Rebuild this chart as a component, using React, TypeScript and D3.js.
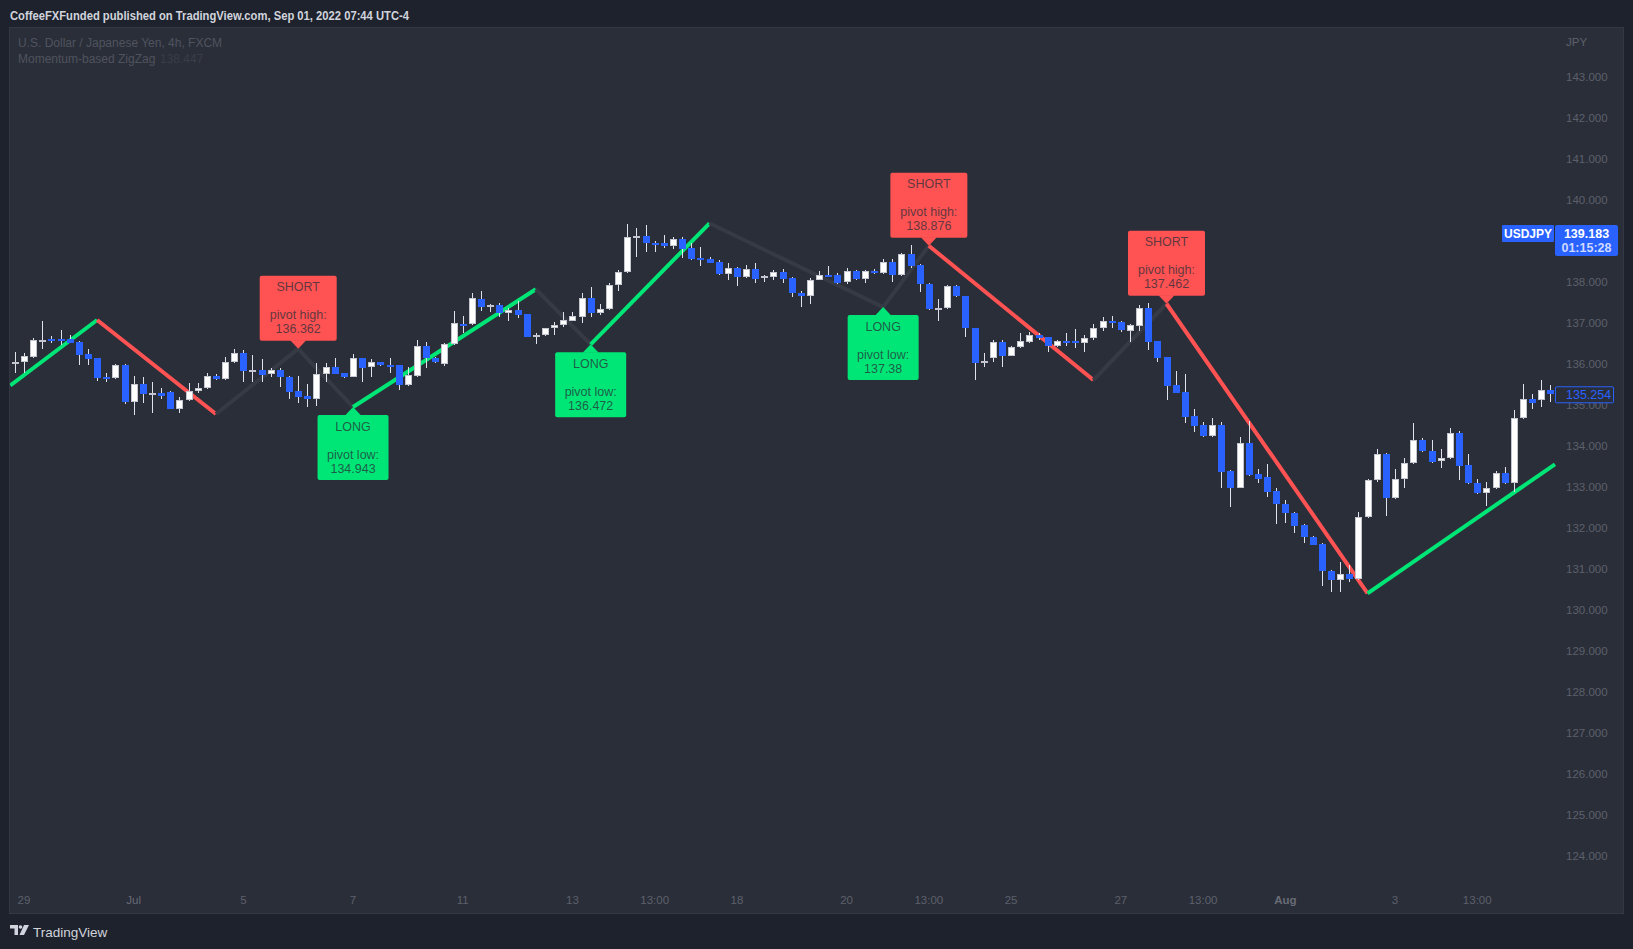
import React from 'react';
import * as d3 from 'd3';

// ---------- DATA ----------
const firstBar = -1; // bar index of the first candle (0 = Jun 29 01:00)

const opens = [
  136.03, 136.03, 136.17, 136.56, 136.60, 136.60, 136.60, 136.54, 136.24, 136.13,
  135.68, 135.64, 135.97, 135.07, 135.50, 135.27, 135.28, 135.31, 134.90, 135.11,
  135.33, 135.40, 135.70, 135.62, 136.03, 136.25, 135.84, 135.85, 135.74, 135.85,
  135.68, 135.33, 135.22, 135.15, 135.74, 135.92, 135.77, 135.68, 136.14, 135.91,
  136.04, 135.97, 135.96, 135.47, 135.71, 136.43, 136.15, 135.99, 136.47, 136.98,
  136.96, 137.59, 137.39, 137.42, 137.23, 137.31, 137.21, 136.66, 136.69, 136.86,
  136.94, 137.05, 137.15, 137.60, 137.23, 137.33, 137.91, 138.23, 139.08, 139.12,
  138.95, 138.95, 138.86, 139.03, 138.81, 138.57, 138.55, 138.48, 138.18, 138.33,
  138.11, 138.30, 138.09, 138.12, 138.24, 138.09, 137.73, 137.64, 138.04, 138.16,
  138.16, 137.99, 138.26, 138.06, 138.26, 138.22, 138.47, 138.16, 138.67, 138.41,
  137.94, 137.35, 137.35, 137.90, 137.65, 136.86, 136.01, 136.13, 136.52, 136.20,
  136.40, 136.54, 136.70, 136.64, 136.42, 136.55, 136.55, 136.51, 136.62, 136.86,
  137.05, 137.01, 136.80, 136.93, 137.35, 136.55, 136.16, 135.48, 135.31, 134.72,
  134.50, 134.24, 134.50, 133.39, 132.98, 134.06, 133.31, 133.23, 132.90, 132.59,
  132.35, 132.07, 131.78, 131.60, 130.95, 130.72, 130.87, 130.74, 132.25, 133.16,
  133.79, 132.72, 133.20, 133.57, 134.14, 133.87, 133.63, 133.69, 134.30, 133.53,
  133.08, 132.85, 132.96, 133.33, 133.08, 134.67, 135.13, 135.11, 135.36,
];
const highs = [
  136.29, 136.25, 136.62, 137.03, 136.68, 136.82, 136.70, 136.56, 136.37, 136.15,
  135.78, 136.00, 136.00, 135.70, 135.67, 135.55, 135.40, 135.33, 135.20, 135.52,
  135.52, 135.77, 135.75, 136.17, 136.36, 136.33, 136.21, 136.11, 135.89, 135.89,
  135.69, 135.70, 135.50, 136.01, 136.01, 136.13, 135.78, 136.23, 136.15, 136.11,
  136.05, 136.15, 135.98, 135.93, 136.58, 136.54, 136.16, 136.50, 137.29, 137.16,
  137.72, 137.78, 137.46, 137.47, 137.35, 137.53, 137.22, 136.76, 136.88, 137.02,
  137.27, 137.27, 137.73, 137.86, 137.45, 137.96, 138.29, 139.41, 139.30, 139.38,
  139.00, 139.14, 139.10, 139.10, 138.94, 138.85, 138.61, 138.53, 138.45, 138.37,
  138.41, 138.45, 138.16, 138.29, 138.30, 138.12, 137.77, 138.08, 138.26, 138.38,
  138.22, 138.33, 138.28, 138.28, 138.30, 138.55, 138.55, 138.69, 138.90, 138.42,
  137.96, 137.57, 137.92, 137.92, 137.66, 136.87, 136.27, 136.58, 136.58, 136.42,
  136.76, 136.78, 136.74, 136.66, 136.59, 136.76, 136.84, 136.70, 136.97, 137.15,
  137.17, 137.04, 136.98, 137.43, 137.47, 136.56, 136.17, 135.81, 135.75, 134.89,
  134.59, 134.67, 134.59, 133.40, 134.22, 134.61, 133.42, 133.55, 132.96, 132.67,
  132.39, 132.09, 131.80, 131.63, 130.97, 131.17, 131.09, 132.39, 133.20, 133.91,
  133.83, 133.42, 133.69, 134.56, 134.18, 134.14, 133.91, 134.42, 134.37, 133.80,
  133.20, 133.12, 133.39, 133.47, 134.87, 135.51, 135.26, 135.60, 135.48,
];
const lows = [
  135.77, 135.78, 136.15, 136.37, 136.50, 136.46, 136.50, 135.97, 135.97, 135.59,
  135.56, 135.62, 135.02, 134.76, 135.03, 134.80, 135.15, 134.89, 134.80, 135.10,
  135.28, 135.39, 135.61, 135.60, 136.02, 135.56, 135.56, 135.56, 135.68, 135.44,
  135.15, 135.05, 134.95, 134.98, 135.56, 135.75, 135.66, 135.67, 135.56, 135.68,
  135.95, 135.78, 135.36, 135.46, 135.68, 135.89, 136.02, 135.95, 136.46, 136.74,
  136.94, 137.29, 137.27, 137.15, 137.05, 137.11, 136.64, 136.48, 136.68, 136.70,
  136.90, 137.03, 136.99, 137.13, 137.19, 137.31, 137.78, 138.22, 138.61, 138.73,
  138.73, 138.81, 138.79, 138.59, 138.53, 138.39, 138.45, 138.16, 138.04, 137.90,
  138.08, 137.98, 138.00, 138.04, 137.96, 137.63, 137.39, 137.46, 138.03, 138.11,
  137.94, 137.94, 138.04, 137.98, 138.20, 138.18, 138.00, 138.14, 138.34, 137.76,
  137.31, 137.05, 137.33, 137.62, 136.64, 135.60, 135.91, 136.05, 135.91, 136.18,
  136.38, 136.50, 136.58, 136.29, 136.40, 136.42, 136.38, 136.28, 136.58, 136.80,
  136.88, 136.78, 136.54, 136.80, 136.33, 136.05, 135.11, 135.28, 134.56, 134.34,
  134.22, 134.22, 132.96, 132.51, 132.96, 133.25, 133.08, 132.76, 132.09, 132.12,
  131.88, 131.62, 131.57, 130.58, 130.42, 130.44, 130.68, 130.72, 132.23, 133.12,
  132.29, 132.70, 132.98, 133.55, 133.84, 133.57, 133.45, 133.67, 133.16, 133.06,
  132.82, 132.54, 132.94, 133.06, 132.86, 134.64, 134.89, 134.94, 135.07,
];
const closes = [
  136.04, 136.19, 136.58, 136.59, 136.58, 136.58, 136.51, 136.21, 136.11, 135.66,
  135.64, 135.97, 135.07, 135.50, 135.27, 135.28, 135.22, 134.90, 135.11, 135.33,
  135.41, 135.70, 135.62, 136.04, 136.25, 135.82, 135.85, 135.73, 135.85, 135.67,
  135.32, 135.20, 135.15, 135.74, 135.92, 135.76, 135.68, 136.13, 135.90, 136.03,
  135.96, 135.95, 135.47, 135.72, 136.43, 136.15, 136.03, 136.47, 136.99, 136.95,
  137.60, 137.39, 137.42, 137.23, 137.31, 137.19, 136.66, 136.70, 136.86, 136.94,
  137.06, 137.16, 137.60, 137.23, 137.33, 137.91, 138.23, 139.08, 139.12, 138.94,
  138.92, 138.86, 139.03, 138.80, 138.55, 138.53, 138.46, 138.18, 138.33, 138.11,
  138.30, 138.07, 138.14, 138.24, 138.07, 137.72, 137.64, 138.04, 138.16, 138.14,
  137.98, 138.26, 138.06, 138.26, 138.22, 138.47, 138.16, 138.67, 138.38, 137.94,
  137.33, 137.36, 137.90, 137.64, 136.86, 136.01, 136.06, 136.52, 136.20, 136.40,
  136.55, 136.70, 136.63, 136.42, 136.55, 136.52, 136.51, 136.62, 136.86, 137.05,
  137.00, 136.81, 136.94, 137.35, 136.54, 136.15, 135.46, 135.29, 134.71, 134.49,
  134.24, 134.50, 133.37, 132.98, 134.06, 133.29, 133.19, 132.88, 132.58, 132.35,
  132.05, 131.77, 131.59, 130.94, 130.73, 130.87, 130.74, 132.25, 133.16, 133.79,
  132.72, 133.20, 133.57, 134.14, 133.86, 133.61, 133.69, 134.30, 133.51, 133.08,
  132.85, 132.98, 133.33, 133.08, 134.67, 135.13, 135.03, 135.36, 135.254,
];

// price axis (139.000 sits under the current-price badge and is not shown)
const yTicks = [124, 125, 126, 127, 128, 129, 130, 131, 132, 133, 134, 135, 136, 137, 138, 140, 141, 142, 143];

// time axis (bar index of each label)
const xTickBars = [0, 12, 24, 36, 48, 60, 69, 78, 90, 99, 108, 120, 129, 138, 150, 159];
const xTickLabels = ['29', 'Jul', '5', '7', '11', '13', '13:00', '18', '20', '13:00', '25', '27', '13:00', 'Aug', '3', '13:00'];

// zigzag vertices
const zzBars = [-1.5, 8, 21, 30, 36, 56, 62, 75, 94, 99, 117, 125, 147, 167.5];
const zzPrices = [135.47, 137.066, 134.773, 136.362, 134.943, 137.815, 136.472, 139.424, 137.38, 138.876, 135.602, 137.462, 130.40, 133.546];
const zzDirs = ['up', 'down', 'flat', 'flat', 'up', 'flat', 'up', 'flat', 'flat', 'down', 'flat', 'down', 'up'];

// pivot labels
const pivotBars = [30, 36, 62, 94, 99, 125];
const pivotPrices = [136.362, 134.943, 136.472, 137.38, 138.876, 137.462];
const pivotKinds = ['high', 'low', 'low', 'low', 'high', 'high'];
const pivotText = ['136.362', '134.943', '136.472', '137.38', '138.876', '137.462'];

const symbol = 'USDJPY';
const currentPrice = 139.183;
const countdown = '01:15:28';
const lastClose = 135.254;
const headerText = 'CoffeeFXFunded published on TradingView.com, Sep 01, 2022 07:44 UTC-4';
const legend1 = 'U.S. Dollar / Japanese Yen, 4h, FXCM';
const legend2 = 'Momentum-based ZigZag';
const legend2Value = '138.447';
const currency = 'JPY';

// ---------- STYLE ----------
const W = 1633;
const H = 949;
const OUTER = '#1e222d';
const PANE = '#2a2e39';
const PANE_BORDER = '#343844';
const AXIS_TEXT = '#5d606b';
const UP_FILL = '#ffffff';
const UP_STROKE = '#c3c6ce';
const DOWN_FILL = '#2962ff';
const WICK = '#dfe2ea';
const GREEN = '#00e676';
const RED = '#ff5252';
const GREY = '#363a45';
const FONT = "'Liberation Sans', Arial, sans-serif";

const pane = { x0: 9, x1: 1623, y0: 27, y1: 913 };
const plotRight = 1555;

export default function App() {
  const x = d3.scaleLinear().domain([0, 159]).range([24, 24 + 159 * 9.14]);
  const y = d3.scaleLinear().domain([124, 143]).range([855.7, 76.7]);

  const candles = opens.map((o, i) => ({
    bar: firstBar + i,
    o,
    h: highs[i],
    l: lows[i],
    c: closes[i],
  }));

  const lineGen = d3
    .line<[number, number]>()
    .x((d) => x(d[0]))
    .y((d) => y(d[1]));

  const segColor = (d: string) => (d === 'up' ? GREEN : d === 'down' ? RED : GREY);

  const segments = zzDirs.map((dir, i) => ({
    dir,
    d: lineGen([
      [zzBars[i], zzPrices[i]],
      [zzBars[i + 1], zzPrices[i + 1]],
    ]) as string,
  }));

  const labelData = pivotBars.map((b, i) => {
    const kind = pivotKinds[i];
    const lines = [kind === 'high' ? 'SHORT' : 'LONG', '', kind === 'high' ? 'pivot high:' : 'pivot low:', pivotText[i]];
    const maxChars = d3.max(lines, (s) => s.length) as number;
    const w = Math.round(12 + 5.9 * maxChars);
    const h = 65;
    const tx = x(b);
    const ty = y(pivotPrices[i]);
    const tip = 8;
    const top = kind === 'high' ? ty - tip - h : ty + tip;
    return { kind, lines, w, h, tx, ty, tip, top, color: kind === 'high' ? RED : GREEN };
  });

  return (
    <svg
      width={W}
      height={H}
      style={{ position: 'absolute', left: 0, top: 0, display: 'block' }}
      fontFamily={FONT}
    >
      <defs>
        <clipPath id="plotClip">
          <rect x={pane.x0 + 1} y={pane.y0 + 1} width={plotRight - pane.x0} height={880 - pane.y0} />
        </clipPath>
      </defs>
      <rect x={0} y={0} width={W} height={H} fill={OUTER} />
      <text x={10} y={19.5} fill="#d1d4dc" fontSize={12.5} fontWeight={600} textLength={399} lengthAdjust="spacingAndGlyphs">
        {headerText}
      </text>
      <rect
        x={pane.x0 + 0.5}
        y={pane.y0 + 0.5}
        width={pane.x1 - pane.x0}
        height={pane.y1 - pane.y0}
        fill={PANE}
        stroke={PANE_BORDER}
      />

      {/* legend */}
      <text x={18} y={46.5} fill="#4f535e" fontSize={12}>
        {legend1}
      </text>
      <text x={18} y={63} fill="#4f535e" fontSize={12}>
        {legend2}
      </text>
      <text x={160} y={63} fill="#393d48" fontSize={12}>
        {legend2Value}
      </text>

      {/* price axis */}
      <text x={1566} y={45.5} fill={AXIS_TEXT} fontSize={11.5}>
        {currency}
      </text>
      {yTicks.map((t) => (
        <text key={t} x={1566} y={y(t) + 4} fill={AXIS_TEXT} fontSize={11.5}>
          {d3.format('.3f')(t)}
        </text>
      ))}

      {/* time axis */}
      {xTickBars.map((b, i) => (
        <text
          key={i}
          x={x(b)}
          y={904}
          textAnchor="middle"
          fill={xTickLabels[i] === 'Aug' || xTickLabels[i] === 'Jul' ? '#686b76' : AXIS_TEXT}
          fontSize={11.5}
          fontWeight={xTickLabels[i] === 'Aug' ? 600 : 400}
        >
          {xTickLabels[i]}
        </text>
      ))}

      <g clipPath="url(#plotClip)">
        {/* zigzag */}
        {segments.map((s, i) => (
          <path key={i} d={s.d} stroke={segColor(s.dir)} strokeWidth={4} fill="none" strokeLinecap="butt" />
        ))}

        {/* candles */}
        {candles.map((k) => {
          const cx = Math.round(x(k.bar));
          const up = k.c >= k.o;
          const yTop = Math.round(y(Math.max(k.o, k.c)));
          const yBot = Math.round(y(Math.min(k.o, k.c)));
          const bh = Math.max(yBot - yTop, 1);
          return (
            <g key={k.bar}>
              <line
                x1={cx + 0.5}
                x2={cx + 0.5}
                y1={Math.round(y(k.h))}
                y2={Math.round(y(k.l))}
                stroke={WICK}
                strokeWidth={1}
              />
              {up ? (
                <rect
                  x={cx - 2.5}
                  y={yTop + 0.5}
                  width={6}
                  height={Math.max(bh - 1, 1)}
                  fill={UP_FILL}
                  stroke={UP_STROKE}
                  strokeWidth={1}
                />
              ) : (
                <rect x={cx - 3} y={yTop} width={7} height={Math.max(bh, 2)} fill={DOWN_FILL} />
              )}
            </g>
          );
        })}

        {/* pivot labels */}
        {labelData.map((L, i) => {
          const left = L.tx - L.w / 2;
          const tri =
            L.kind === 'high'
              ? `M${L.tx - 8},${L.top + L.h - 0.5} L${L.tx},${L.ty} L${L.tx + 8},${L.top + L.h - 0.5} Z`
              : `M${L.tx - 8},${L.top + 0.5} L${L.tx},${L.ty} L${L.tx + 8},${L.top + 0.5} Z`;
          return (
            <g key={i}>
              <rect x={left} y={L.top} width={L.w} height={L.h} rx={2} fill={L.color} />
              <path d={tri} fill={L.color} />
              {L.lines.map((s, j) => (
                <text
                  key={j}
                  x={L.tx}
                  y={L.top + 11 + j * 14 + 4.5}
                  textAnchor="middle"
                  fontSize={12.5}
                  fill="#2a2e39"
                  fillOpacity={0.75}
                >
                  {s}
                </text>
              ))}
            </g>
          );
        })}
      </g>

      {/* last close marker */}
      <rect x={1555.5} y={y(lastClose) - 7.5} width={58} height={16} fill={PANE} stroke="#2962ff" strokeWidth={1} rx={1} />
      <text x={1566} y={y(lastClose) + 5} fill="#2962ff" fontSize={12.5}>
        {d3.format('.3f')(lastClose)}
      </text>

      {/* current price marker */}
      <rect x={1502} y={225} width={52} height={17} fill="#2962ff" rx={1} />
      <text x={1528} y={238} textAnchor="middle" fill="#ffffff" fontSize={12} fontWeight={700}>
        {symbol}
      </text>
      <rect x={1555} y={225} width={63} height={31} fill="#2962ff" rx={2} />
      <text x={1586.5} y={y(currentPrice) + 4.5} textAnchor="middle" fill="#ffffff" fontSize={12.5} fontWeight={700}>
        {d3.format('.3f')(currentPrice)}
      </text>
      <text x={1586.5} y={252} textAnchor="middle" fill="#cfd9ff" fontSize={12.5} fontWeight={600}>
        {countdown}
      </text>

      {/* footer logo */}
      <g fill="#d1d4dc">
        <path d="M10,925 h8 v10 h-3.5 v-6.5 h-4.5 Z" />
        <circle cx={20.5} cy={927} r={1.8} />
        <path d="M24,925 h5 l-5,10 h-4.5 Z" />
      </g>
      <text x={33} y={937} fill="#d1d4dc" fontSize={13.5}>
        TradingView
      </text>
    </svg>
  );
}
